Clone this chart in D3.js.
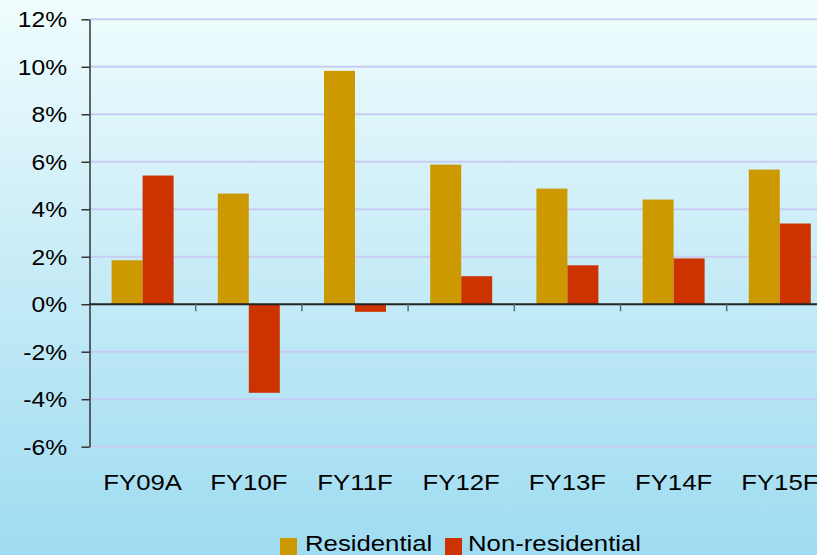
<!DOCTYPE html>
<html>
<head>
<meta charset="utf-8">
<script src="https://cdn.jsdelivr.net/npm/d3@7"></script>
<style>
  html, body { margin: 0; padding: 0; overflow: hidden; }
  svg { display: block; font-family: "Liberation Sans", Arial, sans-serif; }
</style>
</head>
<body>
<svg id="chart" width="817" height="555"></svg>
<script>
// Growth forecasts by fiscal year
const categories = ["FY09A", "FY10F", "FY11F", "FY12F", "FY13F", "FY14F", "FY15F"];
const seriesNames = ["Residential", "Non-residential"];
const residential = [1.85, 4.66, 9.83, 5.88, 4.87, 4.41, 5.67];
const nonResidential = [5.42, -3.73, -0.32, 1.18, 1.64, 1.93, 3.40];
const yTicks = [-6, -4, -2, 0, 2, 4, 6, 8, 10, 12];
const colors = ["#cc9900", "#cc3300"];

const W = 817, H = 555;
const svg = d3.select("#chart");
const stretch = 1.12;       // wide text look for axis labels
const legendStretch = 1.17; // legend labels are a touch wider

// background gradient
const defs = svg.append("defs");
const grad = defs.append("linearGradient").attr("id", "bg")
  .attr("x1", 0).attr("y1", 0).attr("x2", 0).attr("y2", 1);
grad.append("stop").attr("offset", "0%").attr("stop-color", "#f0fdfd");
grad.append("stop").attr("offset", "50%").attr("stop-color", "#c6ebf7");
grad.append("stop").attr("offset", "100%").attr("stop-color", "#9fdcf1");
svg.append("rect").attr("width", W).attr("height", H).attr("fill", "url(#bg)");

const left = 89.5, step = 106.2;
const x = d3.scaleBand().domain(categories)
  .range([left, left + step * categories.length]).paddingInner(0).paddingOuter(0);
const xs = d3.scaleBand().domain(seriesNames)
  .range([0, x.bandwidth()]).paddingInner(0).paddingOuter(0.713);
const y = d3.scaleLinear().domain([-6, 12]).range([446.7, 19.3]);

// gridlines
svg.append("g").selectAll("line")
  .data(yTicks.filter(d => d !== 0))
  .join("line")
  .attr("x1", left).attr("x2", W)
  .attr("y1", d => y(d)).attr("y2", d => y(d))
  .attr("stroke", "#c8ccf4").attr("stroke-width", 2);

// bars
const data = categories.map((c, i) => ({ c, vals: [residential[i], nonResidential[i]] }));
const groups = svg.append("g").selectAll("g")
  .data(data).join("g")
  .attr("transform", d => `translate(${x(d.c)},0)`);
groups.selectAll("rect")
  .data(d => d.vals.map((v, k) => ({ v, k })))
  .join("rect")
  .attr("x", d => xs(seriesNames[d.k]))
  .attr("width", xs.bandwidth())
  .attr("y", d => y(Math.max(0, d.v)))
  .attr("height", d => Math.abs(y(d.v) - y(0)))
  .attr("fill", d => colors[d.k]);

// y axis
const yAxis = svg.append("g").attr("transform", `translate(${left},0)`)
  .call(d3.axisLeft(y).tickValues(yTicks).tickFormat(d => d + "%").tickSize(8).tickSizeOuter(0));
yAxis.select(".domain").attr("stroke", "#333").attr("stroke-width", 1.5);
yAxis.selectAll(".tick line").attr("stroke", "#333").attr("stroke-width", 1.5);
yAxis.selectAll(".tick text")
  .attr("x", -20).attr("dy", "0.34em")
  .attr("transform", `scale(${stretch},1)`)
  .attr("font-size", 22).attr("fill", "#000")
  .attr("font-family", "Liberation Sans, Arial, sans-serif");

// x axis along zero with ticks at category boundaries
const xAxis = svg.append("g").attr("transform", `translate(0,${y(0)})`)
  .call(d3.axisBottom(x).tickSize(0).tickFormat(""));
xAxis.select(".domain").attr("stroke", "#222").attr("stroke-width", 2)
  .attr("d", `M${left},0H${W}`);
svg.append("g").selectAll("line")
  .data(categories.slice(1))
  .join("line")
  .attr("x1", d => x(d)).attr("x2", d => x(d))
  .attr("y1", y(0)).attr("y2", y(0) + 7)
  .attr("stroke", "#5a6a72").attr("stroke-width", 1.5);

// category labels
svg.append("g").selectAll("text")
  .data(categories).join("text")
  .attr("transform", d => `translate(${x(d) + x.bandwidth() / 2},490) scale(${stretch},1)`)
  .attr("text-anchor", "middle")
  .attr("font-size", 23).attr("fill", "#000")
  .text(d => d);

// legend
const legendItems = [
  { name: seriesNames[0], color: colors[0], sx: 280, tx: 305 },
  { name: seriesNames[1], color: colors[1], sx: 445, tx: 468 }
];
const lg = svg.append("g");
lg.selectAll("rect").data(legendItems).join("rect")
  .attr("x", d => d.sx).attr("y", 538).attr("width", 17).attr("height", 17)
  .attr("fill", d => d.color);
lg.selectAll("text").data(legendItems).join("text")
  .attr("transform", d => `translate(${d.tx},551) scale(${legendStretch},1)`)
  .attr("font-size", 22).attr("fill", "#000")
  .text(d => d.name);
</script>
</body>
</html>
